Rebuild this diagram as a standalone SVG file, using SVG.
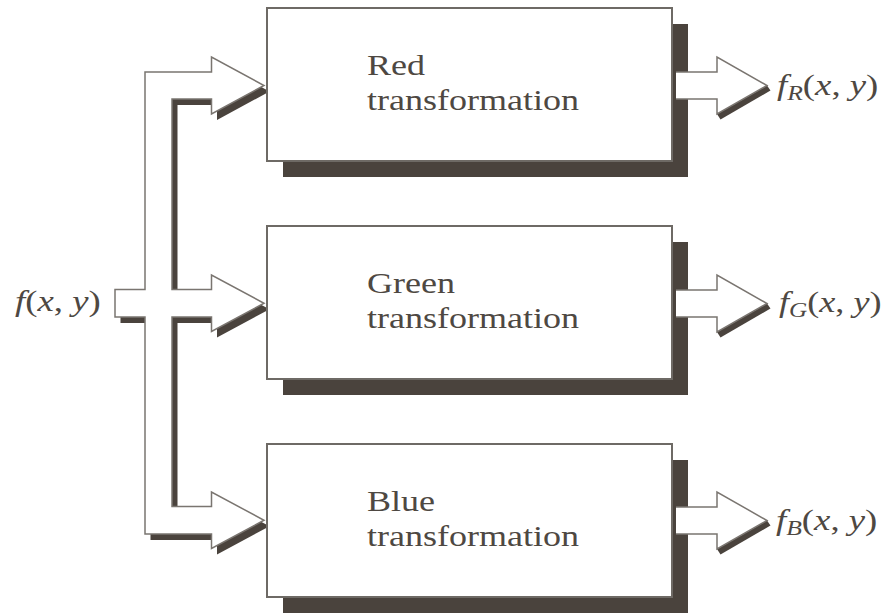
<svg xmlns="http://www.w3.org/2000/svg" width="885" height="613" viewBox="0 0 885 613">
<style>
.bg{fill:#ffffff}
.shadow{fill:#4a433d;stroke:none}
.box{fill:#ffffff;stroke:#6e6a65;stroke-width:2}
.arrow{fill:#ffffff;stroke:none}
.aline{fill:none;stroke:#7a7570;stroke-width:1.5;stroke-linejoin:miter}
.t{font-family:"Liberation Serif","Times New Roman",serif;font-size:28.7px;fill:#4e4842}
.i{font-style:italic}
.sub{font-style:italic;font-size:20px}
</style>
<defs>
<polygon id="inarrow" points="115,289.5 145,289.5 145,72 211.5,72 211.5,57 264,85.5 211.5,114 211.5,99 172,99 172,289.5 211.5,289.5 211.5,275 264,303.25 211.5,331.5 211.5,317 172,317 172,506.5 211.5,506.5 211.5,492 264,520.25 211.5,548.5 211.5,534 145,534 145,317 115,317"/>
<g id="outarrow">
<polygon class="shadow" points="717,28.5 767,0 770.5,5 720.5,34"/>
<polygon class="arrow" points="676,-13.5 717,-13.5 717,-28.5 767,0 717,28.5 717,13.5 676,13.5"/>
<polyline class="aline" points="676,-13.5 717,-13.5 717,-28.5 767,0 717,28.5 717,13.5 676,13.5"/>
</g>
</defs>
<rect class="bg" x="0" y="0" width="885" height="613"/>

<g id="connectors">
<g id="input-arrow">
<use href="#inarrow" class="shadow" transform="translate(5.5,6)"/>
<use href="#inarrow" class="arrow"/>
<use href="#inarrow" class="aline"/>
</g>
</g>

<g id="red-node">
<rect class="shadow" x="283" y="24" width="405" height="153"/>
<rect class="box" x="267" y="8" width="405" height="153"/>
<text class="t" transform="translate(367,75) scale(1.255,1)">Red</text>
<text class="t" transform="translate(367,110) scale(1.255,1)">transformation</text>
</g>
<g id="green-node">
<rect class="shadow" x="283" y="242" width="405" height="153"/>
<rect class="box" x="267" y="226" width="405" height="153"/>
<text class="t" transform="translate(367,293) scale(1.255,1)">Green</text>
<text class="t" transform="translate(367,328) scale(1.255,1)">transformation</text>
</g>
<g id="blue-node">
<rect class="shadow" x="283" y="460" width="405" height="153"/>
<rect class="box" x="267" y="444" width="405" height="153"/>
<text class="t" transform="translate(367,511) scale(1.255,1)">Blue</text>
<text class="t" transform="translate(367,546) scale(1.255,1)">transformation</text>
</g>

<g id="output-connectors">
<use href="#outarrow" transform="translate(0,85.5)"/>
<use href="#outarrow" transform="translate(0,303.5)"/>
<use href="#outarrow" transform="translate(0,520.5)"/>
</g>

<g id="labels">
<text class="t" transform="translate(15,311) scale(1.28,1)"><tspan class="i">f</tspan>(<tspan class="i">x</tspan>, <tspan class="i">y</tspan>)</text>
<text class="t" transform="translate(777,95) scale(1.28,1)"><tspan class="i">f</tspan><tspan class="sub" dy="5">R</tspan><tspan dy="-5">(</tspan><tspan class="i">x</tspan>, <tspan class="i">y</tspan>)</text>
<text class="t" transform="translate(779,312) scale(1.26,1)"><tspan class="i">f</tspan><tspan class="sub" dy="5">G</tspan><tspan dy="-5">(</tspan><tspan class="i">x</tspan>, <tspan class="i">y</tspan>)</text>
<text class="t" transform="translate(776,530) scale(1.28,1)"><tspan class="i">f</tspan><tspan class="sub" dy="5">B</tspan><tspan dy="-5">(</tspan><tspan class="i">x</tspan>, <tspan class="i">y</tspan>)</text>
</g>
</svg>
